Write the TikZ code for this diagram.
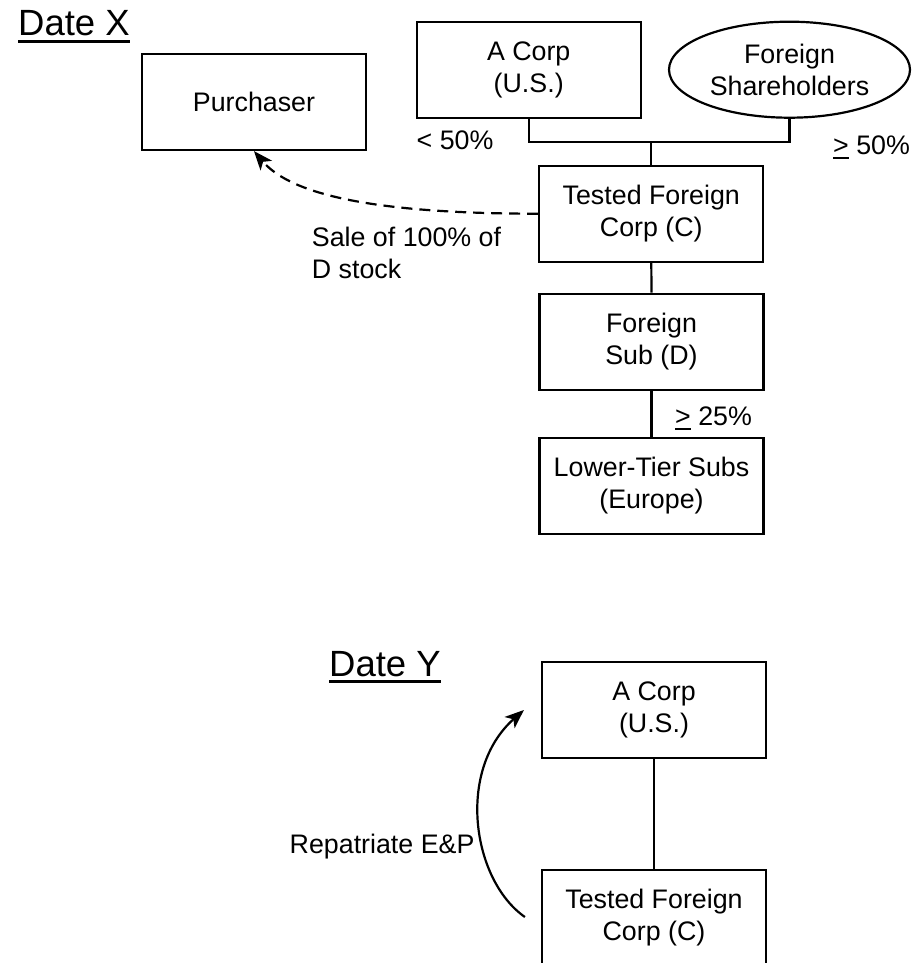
\documentclass[tikz,border=0pt]{standalone}
\usepackage{fontspec}
\setmainfont{Liberation Sans}
\usetikzlibrary{shapes.geometric,arrows.meta,calc}

% underline #1 with a rule #3 thick whose lower edge sits #2 below the baseline
\newsavebox\ulsave
\newcommand{\uline}[3]{\sbox\ulsave{#1}\rlap{\rule[-#2]{\wd\ulsave}{#3}}\usebox\ulsave}

\tikzset{
  entity/.style={draw, line width=2.2pt, minimum width=224pt, minimum height=96pt,
    inner sep=0pt, align=center, font=\fontsize{26.8}{32}\selectfont},
  holder/.style={entity, ellipse, minimum width=241pt},
  label/.style={inner sep=0pt, font=\fontsize{26.8}{31.5}\selectfont},
  title/.style={inner sep=0pt, font=\fontsize{36.5}{40}\selectfont},
  link/.style={line width=2.2pt},
  flow/.style={line width=2.2pt, -{Stealth[length=19pt,width=15pt,inset=5pt]}},
}

\begin{document}
\begin{tikzpicture}[x=1pt, y=-1pt]
\useasboundingbox (0,0) rectangle (921,963);
\clip (0,0) rectangle (921,963);

% ---- Date X structure ----
\node[title, anchor=base west] (datex) at (18,36) {\uline{Date X}{6.8pt}{3pt}};

\node[entity] (purch) at (254,102) {Purchaser};
\node[entity] (acorp) at (528.7,69.8) {A Corp\\(U.S.)};
\node[holder] (fsh) at (789.5,69.7) {Foreign\\Shareholders};
\node[entity] (tfc) at (651.3,213.7) {Tested Foreign\\Corp (C)};
\node[entity] (fsub) at (651.5,341.7) {Foreign\\Sub (D)};
\node[entity] (lts) at (651.5,485.8) {Lower-Tier Subs\\(Europe)};

\coordinate (join) at (651.3,141.7);
\draw[link] (acorp.south) |- (join) -| (fsh.south);
\draw[link] (join) -- (tfc.north);
\draw[link] (tfc.south) -- (fsub.north);
\draw[link] (fsub.south) -- (lts.north);

\node[label, anchor=base west] (lt50) at (416.5,149.5) {< 50\%};
\node[label, anchor=base west] (ge50) at (833,154.5) {\uline{>}{4.8pt}{2.2pt} 50\%};
\node[label, anchor=base west] (ge25) at (675,425.5) {\uline{>}{4.8pt}{2.2pt} 25\%};

\draw[flow, dash pattern=on 11pt off 7pt]
  (tfc.west) .. controls (380,213.7) and (292,196) .. (purch.south);
\node[label, anchor=west, align=left] (sale) at (311.7,252.8) {Sale of 100\% of\\D stock};

% ---- Date Y structure ----
\node[title, anchor=base west] (datey) at (329,676) {\uline{Date Y}{6.8pt}{3pt}};

\node[entity] (acorp2) at (654,710) {A Corp\\(U.S.)};
\node[entity] (tfc2) at (654,918) {Tested Foreign\\Corp (C)};
\draw[link] (acorp2.south) -- (tfc2.north);

\coordinate (repfrom) at ($(tfc2.west)+(-16,-1)$);
\coordinate (repto) at ($(acorp2.west)+(-17,0)$);
\draw[flow] (repfrom) .. controls (472,880) and (456,770) .. (repto);
\node[label, anchor=base west] (repat) at (289.5,853) {Repatriate E\&P};
\end{tikzpicture}
\end{document}
